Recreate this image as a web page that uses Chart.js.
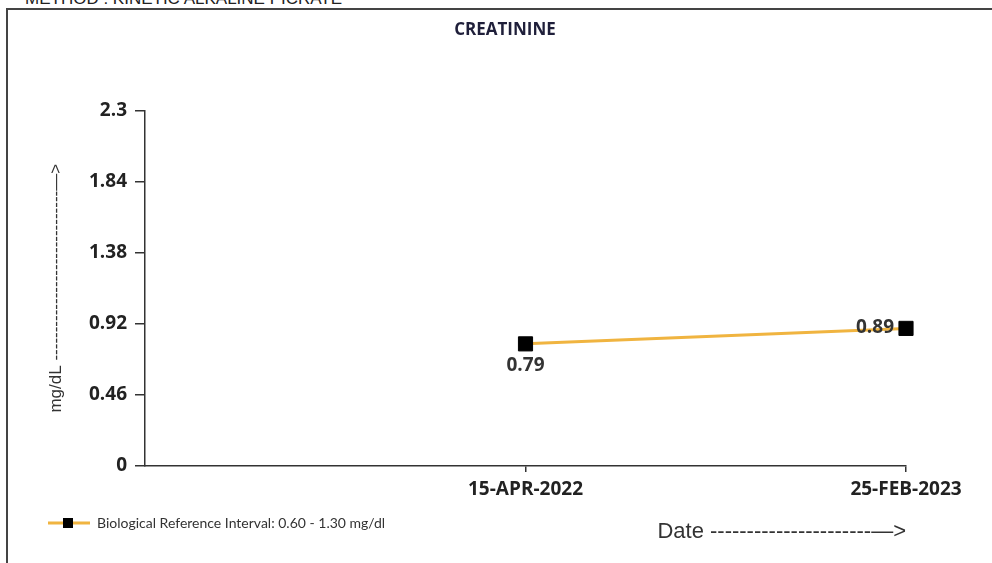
<!DOCTYPE html>
<html lang="en">
<head>
    <meta charset="UTF-8">
    <title>Creatinine</title>
    <style>
        body { margin: 0; background: #fff; }
        #page { position: relative; width: 992px; height: 563px; overflow: hidden; }
        #method {
            position: absolute; left: 25px; top: -10px;
            font: 17px "Liberation Sans", Arial, sans-serif; line-height: 1; color: #222;
        }
        #frame {
            position: absolute; left: 6px; top: 8px; width: 1000px; height: 600px;
            border-left: 2px solid #444; border-top: 2px solid #444;
        }
        #chartContainer { position: absolute; left: 0; top: 0; width: 992px; height: 563px; }
    </style>
</head>
<body>
<div id="page">
    <div id="method"></div>
    <div id="frame"></div>
    <div id="chartContainer">
        <canvas id="creatChart"></canvas>
    </div>
</div>

<script src="https://cdn.jsdelivr.net/npm/chart.js"></script>
<script>
    // values
    const methodText = 'METHOD : KINETIC ALKALINE PICRATE';
    const chartTitle = 'CREATININE';
    const seriesLabel = 'Biological Reference Interval: 0.60 - 1.30 mg/dl';
    const dates = ['15-APR-2022', '25-FEB-2023'];
    const values = [0.79, 0.89];
    const yTicks = [0, 0.46, 0.92, 1.38, 1.84, 2.3];

    document.getElementById('method').textContent = methodText;

    const tickFont = { family: '"Open Sans"', size: 19, weight: 'bold' };
    const axisColor = '#333';

    // legend marker: orange line with a black square
    const marker = document.createElement('canvas');
    marker.width = 62;
    marker.height = 14;
    const mctx = marker.getContext('2d');
    mctx.strokeStyle = '#f0b440';
    mctx.lineWidth = 3;
    mctx.beginPath();
    mctx.moveTo(20, 7);
    mctx.lineTo(62, 7);
    mctx.stroke();
    mctx.fillStyle = '#000';
    mctx.fillRect(35, 2, 10, 10);

    // value labels next to the points
    const pointLabels = {
        id: 'pointLabels',
        afterDatasetsDraw(chart) {
            const ctx = chart.ctx;
            const meta = chart.getDatasetMeta(0);
            ctx.save();
            ctx.font = 'bold 19px "Open Sans"';
            ctx.fillStyle = '#333';
            meta.data.forEach((pt, i) => {
                const txt = values[i].toFixed(2);
                if (i === meta.data.length - 1) {
                    ctx.textAlign = 'right';
                    ctx.textBaseline = 'middle';
                    ctx.fillText(txt, pt.x - 12, pt.y - 1);
                } else {
                    ctx.textAlign = 'center';
                    ctx.textBaseline = 'middle';
                    ctx.fillText(txt, pt.x, pt.y + 22);
                }
            });
            ctx.restore();
        }
    };

    // "Date ----->" caption at the right end of the x axis
    const dateCaption = {
        id: 'dateCaption',
        afterDraw(chart) {
            const ctx = chart.ctx;
            const x = chart.scales.x;
            ctx.save();
            ctx.font = '22px "Liberation Sans"';
            ctx.fillStyle = '#333';
            ctx.textAlign = 'right';
            ctx.textBaseline = 'middle';
            ctx.fillText('Date ' + '-'.repeat(22) + '\u2014>', x.right, x.bottom + 26);
            ctx.restore();
        }
    };

    const ctx = document.getElementById('creatChart').getContext('2d');
    const chart = new Chart(ctx, {
        type: 'line',
        data: {
            datasets: [{
                label: seriesLabel,
                data: values.map((v, i) => ({ x: i + 1, y: v })),
                borderColor: '#f0b440',
                borderWidth: 3,
                pointStyle: 'rect',
                pointRadius: 10,
                pointHoverRadius: 10,
                pointBackgroundColor: '#000',
                pointBorderColor: '#000',
                pointBorderWidth: 1,
                fill: false,
                clip: false,
                tension: 0
            }]
        },
        options: {
            responsive: true,
            maintainAspectRatio: false,
            animation: false,
            layout: { padding: { left: 18, right: 0, top: 10, bottom: 23 } },
            scales: {
                x: {
                    type: 'linear',
                    min: 0,
                    max: dates.length,
                    afterBuildTicks: s => { s.ticks = dates.map((d, i) => ({ value: i + 1 })); },
                    afterFit: s => { s.height = 40; },
                    ticks: {
                        autoSkip: false,
                        maxRotation: 0,
                        padding: 6,
                        color: '#222',
                        font: tickFont,
                        callback: v => dates[v - 1]
                    },
                    grid: { drawOnChartArea: false, tickLength: 6, color: axisColor, lineWidth: 1.5 },
                    border: { color: axisColor, width: 1.5 }
                },
                y: {
                    min: 0,
                    max: yTicks[yTicks.length - 1],
                    afterBuildTicks: s => { s.ticks = yTicks.map(v => ({ value: v })); },
                    afterFit: s => { s.width = 127; },
                    ticks: {
                        padding: 8,
                        color: '#222',
                        font: tickFont,
                        callback: v => String(v)
                    },
                    grid: { drawOnChartArea: false, tickLength: 10, color: axisColor, lineWidth: 1.5 },
                    border: { color: axisColor, width: 1.5 },
                    title: {
                        display: true,
                        text: 'mg/dL ' + '-'.repeat(30) + '\u2014>',
                        color: '#333',
                        font: { family: '"Liberation Sans"', size: 17 },
                        padding: { top: 28, bottom: 0 }
                    }
                },
                y2: {
                    position: 'right',
                    display: true,
                    afterFit: s => { s.width = 86; },
                    ticks: { display: false },
                    grid: { display: false },
                    border: { display: false }
                }
            },
            plugins: {
                title: {
                    display: true,
                    text: chartTitle,
                    color: '#1f1f3a',
                    font: { family: '"Open Sans"', size: 17, weight: 'bold' },
                    padding: { top: 10, bottom: 70 }
                },
                legend: {
                    position: 'bottom',
                    align: 'start',
                    labels: {
                        usePointStyle: true,
                        pointStyle: marker,
                        pointStyleWidth: 62,
                        padding: 10,
                        color: '#333',
                        font: { family: 'Lato', size: 14 }
                    }
                },
                tooltip: { enabled: false }
            }
        },
        plugins: [pointLabels, dateCaption]
    });
</script>
</body>
</html>
